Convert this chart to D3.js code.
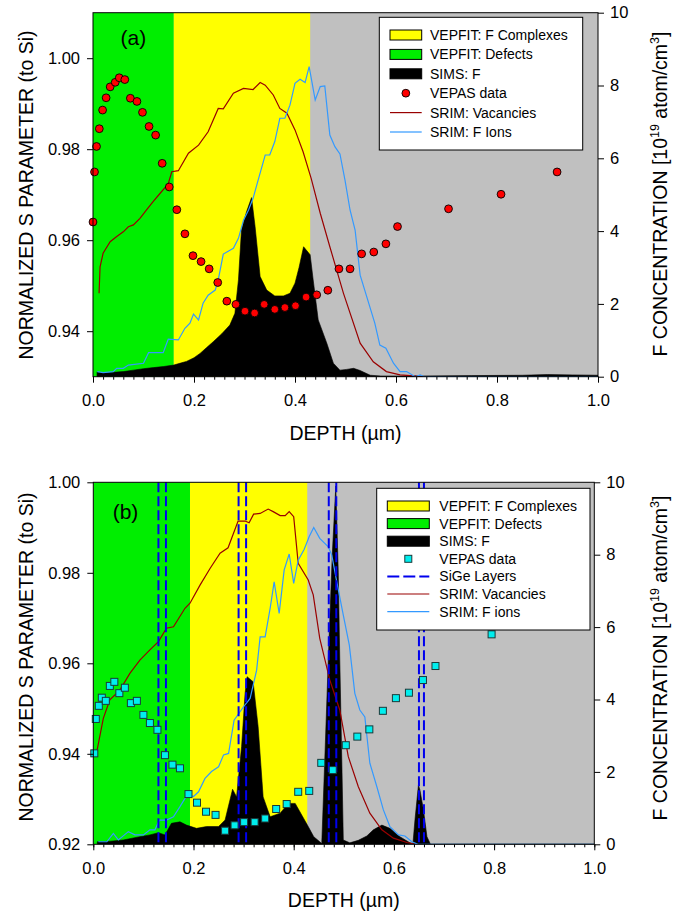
<!DOCTYPE html>
<html>
<head>
<meta charset="utf-8">
<script src="https://cdn.jsdelivr.net/npm/d3@7"></script>
<style>
body { margin: 0; background: #fff; }
svg { display: block; font-family: "Liberation Sans", Arial, sans-serif; }
</style>
</head>
<body>
<svg width="678" height="917"></svg>
<script>
// axis ticks
const xTicks = [0, 0.2, 0.4, 0.6, 0.8, 1.0];
const rightTicks = [0, 2, 4, 6, 8, 10];
const leftTicksA = [0.94, 0.96, 0.98, 1.00];
const leftTicksB = [0.92, 0.94, 0.96, 0.98, 1.00];

// VEPFIT layer boundaries (depth, um): end of defects zone, end of F complexes zone
const zonesA = [0.16, 0.43];
const zonesB = [0.193, 0.427];

// panel (a) : VEPAS S parameter [depth, S]
const vepasA = [[0.000,0.964],[0.003,0.975],[0.007,0.9806],[0.0125,0.9845],[0.019,0.9886],[0.026,0.9913],
  [0.034,0.9937],[0.044,0.9947],[0.052,0.9957],[0.063,0.9953],[0.074,0.9912],[0.087,0.9905],[0.098,0.9881],
  [0.111,0.985],[0.124,0.9831],[0.137,0.9769],[0.151,0.9717],[0.166,0.9667],[0.182,0.9614],[0.198,0.9566],
  [0.214,0.9553],[0.230,0.9537],[0.247,0.9507],[0.265,0.9466],[0.283,0.9459],[0.301,0.9444],[0.320,0.9440],
  [0.339,0.9459],[0.360,0.9448],[0.380,0.9452],[0.401,0.9456],[0.422,0.9475],[0.443,0.9480],[0.465,0.9490],
  [0.487,0.9537],[0.509,0.9537],[0.532,0.9570],[0.556,0.9574],[0.580,0.9592],[0.603,0.9630],[0.704,0.9669],
  [0.808,0.9701],[0.919,0.975]];

// panel (a) : SIMS F profile [depth, 1e19 at/cm3]
const simsA = [[0.008,0],[0.008,0.13],[0.02,0.10],[0.04,0.12],[0.06,0.14],[0.08,0.18],[0.10,0.22],[0.12,0.25],
  [0.14,0.28],[0.16,0.32],[0.175,0.38],[0.185,0.42],[0.20,0.52],[0.212,0.64],[0.225,0.80],[0.238,0.96],
  [0.255,1.18],[0.271,1.42],[0.281,1.74],[0.288,2.66],[0.294,4.03],[0.304,4.53],[0.314,4.92],[0.321,4.12],
  [0.331,2.75],[0.344,2.38],[0.360,2.22],[0.377,2.22],[0.390,2.29],[0.400,2.57],[0.408,3.0],[0.417,3.57],
  [0.430,3.35],[0.436,2.66],[0.446,1.56],[0.463,0.92],[0.476,0.37],[0.489,0.18],[0.502,0.20],[0.516,0.23],
  [0.529,0.17],[0.549,0.04],[0.57,0.02],[0.65,0.02],[0.75,0.03],[0.85,0.04],[0.90,0.06],[0.95,0.05],[1.0,0.04],[1.0,0]];

// panel (a) : SRIM vacancies (scaled to right axis)
const vacA = [[0.012,2.29],[0.014,3.02],[0.02,3.39],[0.034,3.71],[0.047,3.85],[0.06,3.98],[0.07,4.12],[0.08,4.17],
  [0.093,4.35],[0.106,4.58],[0.119,4.81],[0.133,5.04],[0.149,5.30],[0.156,5.63],[0.169,5.66],[0.189,6.14],
  [0.209,6.36],[0.228,6.73],[0.248,7.37],[0.258,7.36],[0.278,7.79],[0.298,7.92],[0.317,7.89],[0.331,8.08],
  [0.341,8.01],[0.357,7.74],[0.370,7.37],[0.384,7.24],[0.400,6.78],[0.416,6.18],[0.432,5.45],[0.45,4.49],
  [0.469,3.57],[0.496,2.29],[0.529,0.92],[0.555,0.41],[0.581,0.14],[0.608,0.05],[0.654,0.0]];

// panel (a) : SRIM F ions (scaled to right axis)
const ionsA = [[0.0085,0.14],[0.02,0.11],[0.04,0.14],[0.047,0.23],[0.06,0.23],[0.07,0.32],[0.10,0.37],[0.11,0.66],
  [0.139,0.66],[0.149,1.03],[0.169,1.01],[0.182,1.33],[0.192,1.47],[0.199,1.72],[0.209,1.56],[0.218,2.02],
  [0.228,2.24],[0.242,2.38],[0.248,2.66],[0.258,3.37],[0.278,3.53],[0.288,3.80],[0.298,4.30],[0.308,4.58],
  [0.317,4.9],[0.327,5.40],[0.341,6.09],[0.35,6.09],[0.36,6.46],[0.370,7.10],[0.38,7.10],[0.39,7.46],
  [0.40,8.06],[0.41,8.17],[0.42,8.08],[0.428,8.52],[0.44,7.60],[0.45,7.97],[0.459,7.99],[0.469,6.64],
  [0.479,6.32],[0.489,6.12],[0.499,5.40],[0.509,4.58],[0.519,4.03],[0.529,2.79],[0.542,2.20],[0.558,1.47],
  [0.568,0.87],[0.580,0.78],[0.595,0.37],[0.608,0.14],[0.621,0.14],[0.638,0.0],[0.648,0.05],[0.656,0.0],[1.0,0.0]];

// panel (b) : VEPAS S parameter
const vepasB = [[0.002,0.9401],[0.005,0.9477],[0.011,0.9506],[0.017,0.9524],[0.025,0.9517],[0.033,0.955],
  [0.042,0.9559],[0.052,0.9534],[0.063,0.9546],[0.075,0.9512],[0.087,0.9517],[0.100,0.9486],[0.113,0.9468],
  [0.128,0.9453],[0.143,0.9397],[0.158,0.9376],[0.173,0.9368],[0.190,0.9311],[0.207,0.9292],[0.225,0.9272],
  [0.244,0.9265],[0.263,0.9230],[0.282,0.9242],[0.301,0.9249],[0.322,0.9249],[0.343,0.9257],[0.365,0.9278],
  [0.386,0.9289],[0.409,0.9316],[0.431,0.9318],[0.455,0.9380],[0.478,0.9364],[0.504,0.9419],[0.527,0.9438],
  [0.551,0.9454],[0.578,0.9495],[0.604,0.9523],[0.630,0.9535],[0.658,0.9563],[0.683,0.9594],[0.795,0.9664]];

// panel (b) : SIMS F profile
const simsB = [[0.008,0],[0.008,0.07],[0.03,0.08],[0.06,0.12],[0.093,0.21],[0.113,0.26],[0.13,0.32],[0.143,0.26],
  [0.156,0.58],[0.173,0.62],[0.186,0.53],[0.206,0.44],[0.226,0.49],[0.25,0.49],[0.263,0.67],[0.278,1.52],
  [0.286,1.31],[0.296,2.70],[0.303,4.17],[0.307,4.63],[0.319,4.49],[0.329,3.25],[0.339,1.31],[0.353,0.76],
  [0.373,0.86],[0.389,1.13],[0.403,1.13],[0.416,0.81],[0.429,0.49],[0.44,0.21],[0.452,0.07],[0.456,0.02],
  [0.462,2.33],[0.469,5.09],[0.477,8.0],[0.484,9.9],[0.489,7.5],[0.492,5.09],[0.496,2.33],[0.499,0.12],
  [0.512,0.04],[0.529,0.11],[0.546,0.23],[0.559,0.40],[0.576,0.53],[0.592,0.44],[0.612,0.21],[0.632,0.04],
  [0.638,0.02],[0.642,0.67],[0.649,1.64],[0.652,1.50],[0.659,0.95],[0.666,0.21],[0.673,0],[1.0,0]];

// panel (b) : SRIM vacancies
const vacB = [[0.007,2.56],[0.02,3.48],[0.033,3.99],[0.053,4.26],[0.073,4.72],[0.093,5.09],[0.113,5.37],
  [0.13,5.60],[0.146,5.97],[0.16,6.01],[0.183,6.52],[0.193,6.66],[0.213,7.16],[0.233,7.62],[0.253,8.04],
  [0.269,8.19],[0.289,8.93],[0.303,8.93],[0.311,8.88],[0.32,9.12],[0.333,9.14],[0.349,9.26],[0.359,9.19],
  [0.373,9.08],[0.383,9.08],[0.391,9.19],[0.40,9.05],[0.409,7.76],[0.429,7.30],[0.439,6.89],[0.452,5.69],
  [0.4625,5.09],[0.472,4.54],[0.492,3.71],[0.509,2.42],[0.529,1.59],[0.552,0.86],[0.576,0.40],[0.599,0.17],
  [0.626,0.05],[0.645,0]];

// panel (b) : SRIM F ions
const ionsB = [[0.01,0.07],[0.027,0.07],[0.04,0.30],[0.05,0.12],[0.07,0.35],[0.083,0.26],[0.10,0.26],
  [0.113,0.40],[0.123,0.40],[0.132,0.67],[0.146,0.67],[0.16,0.76],[0.173,1.04],[0.183,1.27],[0.193,1.36],
  [0.2,1.32],[0.21,1.45],[0.223,1.82],[0.236,2.01],[0.25,2.14],[0.26,2.47],[0.27,2.51],[0.281,3.43],
  [0.30,3.80],[0.313,4.03],[0.326,4.81],[0.333,5.73],[0.343,5.73],[0.353,6.52],[0.361,7.25],[0.371,6.38],
  [0.381,7.58],[0.391,8.02],[0.40,7.21],[0.409,7.85],[0.421,8.15],[0.431,8.50],[0.44,8.75],[0.452,8.45],
  [0.469,8.22],[0.476,7.99],[0.486,7.25],[0.499,6.33],[0.511,5.50],[0.516,4.9],[0.522,4.17],[0.532,3.71],
  [0.542,3.52],[0.552,2.24],[0.566,1.59],[0.579,0.95],[0.592,0.49],[0.609,0.26],[0.622,0.23],[0.636,0.07],
  [0.648,0],[1.0,0]];

// SiGe marker layers in (b) [start, end]
const sigeB = [[0.13,0.145],[0.29,0.305],[0.47,0.485],[0.65,0.66]];

const legendA = [
  {label: 'VEPFIT: F Complexes', type: 'rect', key: 'complex'},
  {label: 'VEPFIT: Defects', type: 'rect', key: 'defect'},
  {label: 'SIMS: F', type: 'rect', key: 'sims'},
  {label: 'VEPAS data', type: 'circle', key: 'vepas'},
  {label: 'SRIM: Vacancies', type: 'line', key: 'vac'},
  {label: 'SRIM: F Ions', type: 'line', key: 'ions'}
];
const legendB = [
  {label: 'VEPFIT: F Complexes', type: 'rect', key: 'complex'},
  {label: 'VEPFIT: Defects', type: 'rect', key: 'defect'},
  {label: 'SIMS: F', type: 'rect', key: 'sims'},
  {label: 'VEPAS data', type: 'square', key: 'vepasB'},
  {label: 'SiGe Layers', type: 'dash', key: 'sige'},
  {label: 'SRIM: Vacancies', type: 'line', key: 'vac'},
  {label: 'SRIM: F ions', type: 'line', key: 'ions'}
];

const colors = {
  complex: '#ffff00', defect: '#00ee00', bulk: '#c0c0c0', sims: '#000000',
  vepas: '#ff0000', vepasB: '#00eeee', vac: '#990000', ions: '#3399ff', sige: '#0000ee'
};

const svg = d3.select('svg');
const font = '"Liberation Sans", Arial, sans-serif';

function drawPanel(p) {
  const x = d3.scaleLinear().domain([0, 1]).range([p.left, p.right]);
  const yL = d3.scaleLinear().domain(p.sDomain).range([p.bottom, p.top]);
  const yR = d3.scaleLinear().domain([0, 10]).range([p.bottom, p.top]);

  const g = svg.append('g');
  const clipId = 'clip' + p.id;
  svg.append('clipPath').attr('id', clipId)
    .append('rect')
    .attr('x', p.left).attr('y', p.top)
    .attr('width', p.right - p.left).attr('height', p.bottom - p.top);

  const plot = g.append('g').attr('clip-path', `url(#${clipId})`);

  // fitted layers
  plot.append('rect')
    .attr('x', x(0)).attr('y', p.top)
    .attr('width', x(1) - x(0)).attr('height', p.bottom - p.top)
    .attr('fill', colors.bulk);
  plot.append('rect')
    .attr('x', x(0)).attr('y', p.top)
    .attr('width', x(p.zones[0]) - x(0)).attr('height', p.bottom - p.top)
    .attr('fill', colors.defect);
  plot.append('rect')
    .attr('x', x(p.zones[0])).attr('y', p.top)
    .attr('width', x(p.zones[1]) - x(p.zones[0])).attr('height', p.bottom - p.top)
    .attr('fill', colors.complex);

  // SIMS
  plot.append('path')
    .datum(p.sims)
    .attr('d', d3.area().x(d => x(d[0])).y0(yR(0)).y1(d => yR(d[1])))
    .attr('fill', colors.sims)
    .attr('stroke', colors.sims)
    .attr('stroke-width', 0.6);

  const line = d3.line().x(d => x(d[0])).y(d => yR(d[1]));
  plot.append('path').datum(p.vac).attr('d', line)
    .attr('fill', 'none').attr('stroke', colors.vac).attr('stroke-width', 1.2);
  plot.append('path').datum(p.ions).attr('d', line)
    .attr('fill', 'none').attr('stroke', colors.ions).attr('stroke-width', 1.2);

  // SiGe layers
  if (p.sige) {
    plot.selectAll('.sige')
      .data(p.sige.flat())
      .enter().append('line')
      .attr('x1', d => x(d)).attr('x2', d => x(d))
      .attr('y1', p.top).attr('y2', p.bottom)
      .attr('stroke', colors.sige)
      .attr('stroke-width', 2)
      .attr('stroke-dasharray', '10,4');
  }

  // VEPAS points
  if (p.symbol === 'circle') {
    g.selectAll('.pt' + p.id)
      .data(p.vepas).enter().append('circle')
      .attr('cx', d => x(d[0])).attr('cy', d => yL(d[1]))
      .attr('r', 3.9)
      .attr('fill', colors.vepas).attr('stroke', '#000').attr('stroke-width', 0.9);
  } else {
    g.selectAll('.pt' + p.id)
      .data(p.vepas).enter().append('rect')
      .attr('x', d => x(d[0]) - 3.5).attr('y', d => yL(d[1]) - 3.5)
      .attr('width', 7).attr('height', 7)
      .attr('fill', colors.vepasB).attr('stroke', '#1a3a3a').attr('stroke-width', 1);
  }

  // frame
  g.append('rect')
    .attr('x', p.left).attr('y', p.top)
    .attr('width', p.right - p.left).attr('height', p.bottom - p.top)
    .attr('fill', 'none').attr('stroke', '#000').attr('stroke-width', 1);

  // axes
  const styleAxis = sel => {
    sel.attr('font-family', font).attr('font-size', 16.5);
    sel.select('.domain').remove();
    sel.selectAll('text').attr('fill', '#000');
  };
  g.append('g')
    .attr('transform', `translate(0,${p.bottom})`)
    .call(d3.axisBottom(x).tickValues(d3.range(0, 1.001, 0.02)).tickSize(3).tickFormat(''))
    .call(styleAxis);
  g.append('g')
    .attr('transform', `translate(0,${p.bottom})`)
    .call(d3.axisBottom(x).tickValues(xTicks).tickSize(6).tickPadding(12).tickFormat(d3.format('.1f')))
    .call(styleAxis);
  g.append('g')
    .attr('transform', `translate(${p.left},0)`)
    .call(d3.axisLeft(yL).tickValues(p.sTicks).tickSize(6).tickPadding(7).tickFormat(d3.format('.2f')))
    .call(styleAxis);
  g.append('g')
    .attr('transform', `translate(${p.right},0)`)
    .call(d3.axisRight(yR).tickValues(rightTicks).tickSize(6).tickPadding(6).tickFormat(d3.format('d')))
    .call(styleAxis);

  // titles
  g.append('text')
    .attr('transform', `translate(32.5,${p.leftTitleY}) rotate(-90)`)
    .attr('text-anchor', 'middle')
    .attr('font-size', 19.5)
    .text('NORMALIZED S PARAMETER (to Si)');

  const rt = g.append('text')
    .attr('transform', `translate(667,${p.rightTitleY}) rotate(-90)`)
    .attr('text-anchor', 'middle')
    .attr('font-size', 19.5);
  rt.append('tspan').text('F CONCENTRATION [10');
  rt.append('tspan').attr('font-size', 12.5).attr('dy', -8).text('19');
  rt.append('tspan').attr('dy', 8).text(' atom/cm');
  rt.append('tspan').attr('font-size', 12.5).attr('dy', -8).text('3');
  rt.append('tspan').attr('dy', 8).text(']');

  g.append('text')
    .attr('x', (p.left + p.right) / 2).attr('y', p.bottom + 63)
    .attr('text-anchor', 'middle')
    .attr('font-size', 19.5)
    .text('DEPTH (\u00b5m)');

  g.append('text')
    .attr('x', p.labelX).attr('y', p.labelY)
    .attr('font-size', 21)
    .text(p.label);

  // legend
  const L = p.legend;
  const lg = g.append('g');
  lg.append('rect')
    .attr('x', L.x0).attr('y', L.y0)
    .attr('width', L.x1 - L.x0).attr('height', L.y1 - L.y0)
    .attr('fill', '#fff').attr('stroke', '#000').attr('stroke-width', 1);
  const row = lg.selectAll('.row')
    .data(L.entries).enter().append('g')
    .attr('transform', (d, i) => `translate(0,${L.firstRow + i * L.step})`);
  const sw0 = L.sx, sw1 = L.sx + L.sw, swc = (sw0 + sw1) / 2;
  row.filter(d => d.type === 'rect').append('rect')
    .attr('x', sw0).attr('y', -5).attr('width', L.sw).attr('height', 10)
    .attr('fill', d => colors[d.key]).attr('stroke', '#000').attr('stroke-width', 1);
  row.filter(d => d.type === 'circle').append('circle')
    .attr('cx', swc).attr('cy', 0).attr('r', 3.9)
    .attr('fill', colors.vepas).attr('stroke', '#000').attr('stroke-width', 0.9);
  row.filter(d => d.type === 'square').append('rect')
    .attr('x', swc - 3.5).attr('y', -3.5).attr('width', 7).attr('height', 7)
    .attr('fill', colors.vepasB).attr('stroke', '#1a3a3a').attr('stroke-width', 1);
  row.filter(d => d.type === 'line').append('line')
    .attr('x1', sw0).attr('x2', sw1).attr('y1', 0).attr('y2', 0)
    .attr('stroke', d => colors[d.key]).attr('stroke-width', 1.2);
  row.filter(d => d.type === 'dash').append('line')
    .attr('x1', sw0).attr('x2', sw1).attr('y1', 0).attr('y2', 0)
    .attr('stroke', colors.sige).attr('stroke-width', 2).attr('stroke-dasharray', '12,4');
  row.append('text')
    .attr('x', L.tx).attr('y', 5)
    .attr('font-size', 14)
    .text(d => d.label);
}

drawPanel({
  id: 'a', left: 93, right: 598, top: 12.7, bottom: 376.7,
  sDomain: [0.93, 1.01], sTicks: leftTicksA, zones: zonesA,
  sims: simsA, vac: vacA, ions: ionsA, vepas: vepasA, symbol: 'circle',
  leftTitleY: 195, rightTitleY: 194, label: '(a)', labelX: 120.5, labelY: 45,
  legend: {x0: 379.3, x1: 582.7, y0: 17.3, y1: 150, firstRow: 35, step: 19.4,
           sx: 390, sw: 31.7, tx: 430, entries: legendA}
});

drawPanel({
  id: 'b', left: 93.3, right: 594.3, top: 482.3, bottom: 844.3,
  sDomain: [0.92, 1.00], sTicks: leftTicksB, zones: zonesB,
  sims: simsB, vac: vacB, ions: ionsB, vepas: vepasB, symbol: 'square', sige: sigeB,
  leftTitleY: 657, rightTitleY: 658, label: '(b)', labelX: 112.7, labelY: 519,
  legend: {x0: 376.7, x1: 590, y0: 488.3, y1: 630, firstRow: 506, step: 17.6,
           sx: 387.3, sw: 42, tx: 439.3, entries: legendB}
});
</script>
</body>
</html>
